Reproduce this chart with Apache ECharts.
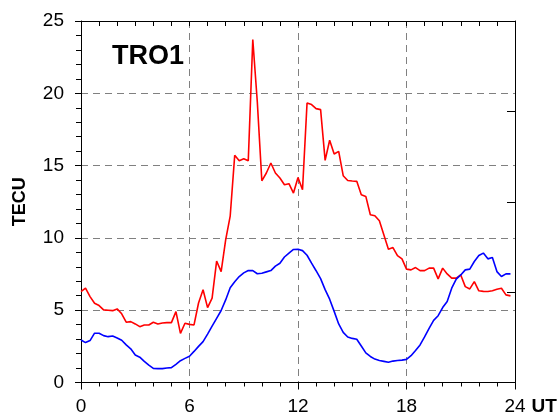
<!DOCTYPE html>
<html><head><meta charset="utf-8">
<script src="https://cdn.jsdelivr.net/npm/echarts@6/dist/echarts.min.js"></script>
<style>html,body{margin:0;padding:0;background:#fff}#c{width:560px;height:414px}</style>
</head><body><div id="c"></div>
<script>
const stationName = 'TRO1';
const yAxisName = 'TECU';
const xAxisUnit = 'UT';
const xTicks = [0, 6, 12, 18, 24];
const yTicks = [0, 5, 10, 15, 20, 25];

const hours = [
  0.00, 0.25, 0.50, 0.75, 1.00, 1.25, 1.50, 1.75, 2.00, 2.25, 2.50, 2.75,
  3.00, 3.25, 3.50, 3.75, 4.00, 4.25, 4.50, 4.75, 5.00, 5.25, 5.50, 5.75,
  6.00, 6.25, 6.50, 6.75, 7.00, 7.25, 7.50, 7.75, 8.00, 8.25, 8.50, 8.75,
  9.00, 9.25, 9.50, 9.75, 10.00, 10.25, 10.50, 10.75, 11.00, 11.25, 11.50, 11.75,
  12.00, 12.25, 12.50, 12.75, 13.00, 13.25, 13.50, 13.75, 14.00, 14.25, 14.50, 14.75,
  15.00, 15.25, 15.50, 15.75, 16.00, 16.25, 16.50, 16.75, 17.00, 17.25, 17.50, 17.75,
  18.00, 18.25, 18.50, 18.75, 19.00, 19.25, 19.50, 19.75, 20.00, 20.25, 20.50, 20.75,
  21.00, 21.25, 21.50, 21.75, 22.00, 22.25, 22.50, 22.75, 23.00, 23.25, 23.50, 23.75
];

const redTEC = [
  6.29, 6.52, 5.94, 5.48, 5.32, 5.02, 5.00, 4.97, 5.09, 4.75, 4.17, 4.21,
  4.05, 3.86, 3.98, 3.98, 4.17, 4.05, 4.12, 4.14, 4.14, 4.90, 3.40, 4.10,
  4.02, 3.98, 5.50, 6.41, 5.18, 5.83, 8.40, 7.67, 9.87, 11.50, 15.71, 15.34,
  15.48, 15.34, 23.72, 19.40, 13.95, 14.49, 15.18, 14.49, 14.14, 13.68, 13.75, 13.10,
  14.18, 13.33, 19.33, 19.22, 18.94, 18.87, 15.36, 16.75, 15.80, 15.98, 14.30, 13.97,
  13.93, 13.91, 12.98, 12.87, 11.60, 11.53, 11.18, 10.20, 9.22, 9.33, 8.78, 8.55,
  7.84, 7.79, 7.95, 7.74, 7.74, 7.91, 7.91, 7.17, 7.91, 7.51, 7.22, 7.22,
  7.44, 6.63, 6.47, 6.98, 6.34, 6.30, 6.29, 6.35, 6.45, 6.52, 6.06, 5.99
];

const blueTEC = [
  2.94, 2.76, 2.90, 3.41, 3.41, 3.24, 3.17, 3.22, 3.08, 2.92, 2.60, 2.33,
  1.90, 1.75, 1.46, 1.20, 0.98, 0.96, 0.96, 1.00, 1.03, 1.26, 1.51, 1.67,
  1.82, 2.15, 2.50, 2.83, 3.35, 3.90, 4.44, 4.98, 5.71, 6.55, 6.97, 7.33,
  7.58, 7.74, 7.74, 7.52, 7.56, 7.65, 7.74, 8.05, 8.25, 8.68, 8.95, 9.20,
  9.22, 9.12, 8.80, 8.25, 7.73, 7.18, 6.42, 5.76, 4.92, 4.05, 3.47, 3.15,
  3.05, 2.99, 2.52, 2.05, 1.80, 1.62, 1.52, 1.46, 1.40, 1.48, 1.52, 1.55,
  1.60, 1.85, 2.22, 2.60, 3.15, 3.75, 4.30, 4.62, 5.18, 5.60, 6.52, 7.15,
  7.44, 7.79, 7.84, 8.37, 8.78, 8.95, 8.55, 8.64, 7.67, 7.33, 7.51, 7.51
];

const FONT = 'Liberation Sans, Arial, sans-serif';
const gridDash = {color: '#808080', width: 1, type: [7, 5]};
const chart = echarts.init(document.getElementById('c'), null, {renderer: 'canvas'});
chart.setOption({
  animation: false,
  backgroundColor: '#fff',
  title: {
    text: stationName, left: 112, top: 43, padding: 0,
    textStyle: {fontFamily: FONT, fontSize: 27, fontWeight: 'bold', color: '#000'}
  },
  grid: {left: 81, right: 45, top: 21, bottom: 31.5, containLabel: false, outerBoundsMode: 'none'},
  xAxis: [{
    type: 'value', position: 'bottom', min: xTicks[0], max: xTicks[xTicks.length - 1], interval: 6,
    axisLine: {show: true, onZero: false, lineStyle: {color: '#000', width: 1}},
    axisTick: {show: true, inside: false, length: 7, lineStyle: {color: '#000'}},
    minorTick: {show: true, splitNumber: 6, length: 4, lineStyle: {color: '#000'}},
    axisLabel: {show: true, margin: 15, fontFamily: FONT, fontSize: 19, color: '#000'},
    splitLine: {show: true, lineStyle: gridDash},
    name: xAxisUnit, nameLocation: 'end', nameGap: 11,
    nameTextStyle: {fontFamily: FONT, fontSize: 19, fontWeight: 'bold', color: '#000', verticalAlign: 'top', padding: [15, 0, 0, 0]}
  }, {
    type: 'value', position: 'top', min: 0, max: 24, interval: 1,
    axisLine: {show: true, onZero: false, lineStyle: {color: '#000', width: 1}},
    axisTick: {show: true, inside: true, length: 5, lineStyle: {color: '#000'}},
    axisLabel: {show: false}, splitLine: {show: false}
  }],
  yAxis: [{
    type: 'value', position: 'left', min: yTicks[0], max: yTicks[yTicks.length - 1], interval: 5,
    axisLine: {show: true, onZero: false, lineStyle: {color: '#000', width: 1}},
    axisTick: {show: true, inside: false, length: 6, lineStyle: {color: '#000'}},
    minorTick: {show: true, splitNumber: 5, length: 5, lineStyle: {color: '#000'}},
    axisLabel: {show: true, margin: 17, fontFamily: FONT, fontSize: 19, color: '#000'},
    splitLine: {show: true, lineStyle: gridDash},
    name: yAxisName, nameLocation: 'middle', nameGap: 52, nameRotate: 90,
    nameTextStyle: {fontFamily: FONT, fontSize: 18, fontWeight: 'bold', color: '#000'}
  }, {
    type: 'value', position: 'right', min: 0, max: 25, interval: 6.25,
    axisLine: {show: true, onZero: false, lineStyle: {color: '#000', width: 1}},
    axisTick: {show: true, inside: true, length: 8, lineStyle: {color: '#000'}},
    axisLabel: {show: false}, splitLine: {show: false}
  }],
  series: [{
    type: 'line', xAxisIndex: 0, yAxisIndex: 0, showSymbol: false, symbol: 'none',
    data: hours.map((h, i) => [h, redTEC[i]]),
    lineStyle: {color: '#ff0000', width: 1.6}, itemStyle: {color: '#ff0000'}
  }, {
    type: 'line', xAxisIndex: 0, yAxisIndex: 0, showSymbol: false, symbol: 'none',
    data: hours.map((h, i) => [h, blueTEC[i]]),
    lineStyle: {color: '#0000ff', width: 1.6}, itemStyle: {color: '#0000ff'}
  }]
});
</script>
</body></html>
